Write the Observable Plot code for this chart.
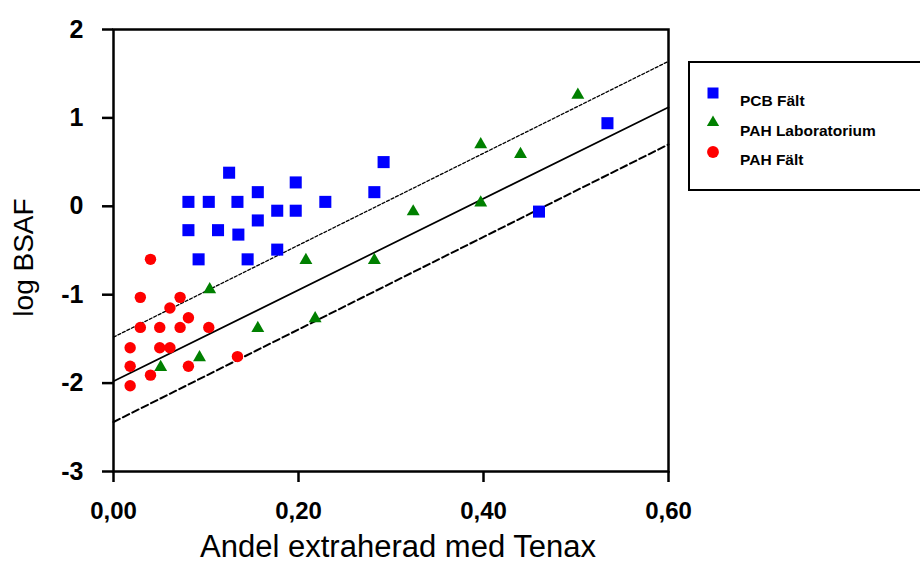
<!DOCTYPE html>
<html><head><meta charset="utf-8">
<script src="https://cdn.jsdelivr.net/npm/d3@7"></script>
<script src="https://cdn.jsdelivr.net/npm/@observablehq/plot@0.6"></script>
<style>
body{margin:0;background:#fff;overflow:hidden}
#wrap{position:relative;width:920px;height:563px;overflow:hidden;font-family:"Liberation Sans",Arial,sans-serif;color:#000;background:#fff}
#legend{position:absolute;left:688px;top:61px}
</style>
</head><body>
<div id="wrap"></div>
<script>
// PCB Fält
const pcbX = [0.081,0.081,0.092,0.103,0.113,0.125,0.134,0.135,0.145,0.156,0.156,0.177,0.177,0.197,0.197,0.229,0.282,0.292,0.460,0.534];
const pcbY = [0.05,-0.27,-0.60,0.05,-0.27,0.38,0.05,-0.32,-0.60,0.16,-0.16,-0.05,-0.49,0.27,-0.05,0.05,0.16,0.50,-0.06,0.94];
// PAH Laboratorium
const labX = [0.051,0.093,0.104,0.156,0.208,0.218,0.282,0.324,0.397,0.397,0.440,0.502];
const labY = [-1.82,-1.71,-0.94,-1.38,-0.61,-1.27,-0.61,-0.06,0.70,0.04,0.59,1.26];
// PAH Fält
const faltX = [0.040,0.029,0.072,0.061,0.029,0.050,0.072,0.081,0.103,0.018,0.050,0.061,0.018,0.081,0.040,0.018,0.134];
const faltY = [-0.60,-1.03,-1.03,-1.15,-1.37,-1.37,-1.37,-1.26,-1.37,-1.60,-1.60,-1.60,-1.81,-1.81,-1.91,-2.03,-1.70];
// Regression line and bounds
const lineX = [0, 0.6];
const fitY = [-1.98, 1.12];
const upperY = [-1.48, 1.64];
const lowerY = [-2.44, 0.70];
// Ticks
const xTicks = [0, 0.2, 0.4, 0.6];
const yTicks = [-3, -2, -1, 0, 1, 2];
const seriesNames = ["PCB Fält", "PAH Laboratorium", "PAH Fält"];
const seriesColors = ["#0000ff", "#008000", "#ff0000"];

const pts = (xs, ys) => xs.map((x, i) => ({x, y: ys[i]}));
const pcb = pts(pcbX, pcbY), lab = pts(labX, labY), falt = pts(faltX, faltY);
const fit = pts(lineX, fitY), upper = pts(lineX, upperY), lower = pts(lineX, lowerY);

const plot = Plot.plot({
  width: 920, height: 563,
  marginLeft: 113, marginRight: 252, marginTop: 29, marginBottom: 92,
  x: {domain: [0, 0.6]},
  y: {domain: [-3, 2]},
  style: {fontFamily: '"Liberation Sans", Arial, sans-serif', background: "#fff", color: "#000"},
  marks: [
    Plot.line(upper, {x: "x", y: "y", stroke: "#000", strokeWidth: 1.3, strokeDasharray: "3,2"}),
    Plot.line(fit, {x: "x", y: "y", stroke: "#000", strokeWidth: 1.7}),
    Plot.line(lower, {x: "x", y: "y", stroke: "#000", strokeWidth: 2, strokeDasharray: "7,3.5"}),
    Plot.dot(pcb, {x: "x", y: "y", symbol: "square", r: 6.8, fill: seriesColors[0], stroke: "none"}),
    Plot.dot(lab, {x: "x", y: "y", symbol: "triangle", r: 4.8, fill: seriesColors[1], stroke: "none"}),
    Plot.dot(falt, {x: "x", y: "y", symbol: "circle", r: 5.7, fill: seriesColors[2], stroke: "none"}),
    Plot.frame({stroke: "#000", strokeWidth: 2.5}),
    Plot.axisY(yTicks, {tickSize: 11, tickPadding: 19, tickFormat: d => String(d), fontSize: 25, fontWeight: "bold", strokeWidth: 2.5, label: null}),
    Plot.axisX(xTicks, {tickSize: 11, tickPadding: 19, tickFormat: d => d.toFixed(2).replace(".", ","), fontSize: 24, fontWeight: "bold", strokeWidth: 2.5, label: null}),
    Plot.text(["log BSAF"], {frameAnchor: "left", textAnchor: "middle", lineAnchor: "middle", rotate: -90, dx: -89, dy: 7, fontSize: 28, fill: "#000"}),
    Plot.text(["Andel extraherad med Tenax"], {frameAnchor: "bottom", dy: 85, dx: 7, fontSize: 31, fill: "#000"})
  ]
});
const wrap = document.getElementById("wrap");
wrap.appendChild(plot);

// Legend
const lg = d3.select(wrap).append("svg").attr("id", "legend").attr("width", 240).attr("height", 131);
lg.append("rect").attr("x", 1).attr("y", 1).attr("width", 300).attr("height", 128).attr("fill", "#fff").attr("stroke", "#000").attr("stroke-width", 2);
const syms = [d3.symbolSquare, d3.symbolTriangle, d3.symbolCircle];
const sizes = [121, 65, 110];
seriesNames.forEach((name, i) => {
  const cy = 32 + i * 29.5;
  lg.append("path").attr("d", d3.symbol(syms[i], sizes[i])()).attr("transform", `translate(25,${cy})`).attr("fill", seriesColors[i]);
  lg.append("text").attr("x", 52).attr("y", cy + 8).attr("dy", "0.35em")
    .attr("font-family", '"Liberation Sans", Arial, sans-serif').attr("font-size", 15.5).attr("font-weight", "bold").text(name);
});
</script>
</body></html>
